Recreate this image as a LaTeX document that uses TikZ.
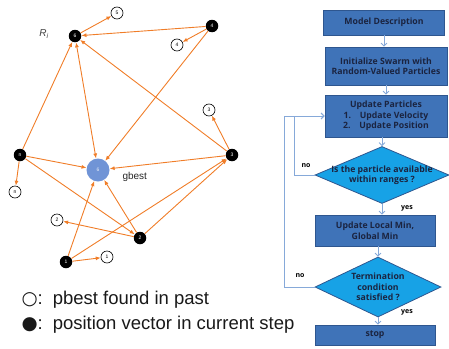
\documentclass[tikz,border=0pt]{standalone}
\usepackage{fontspec}
\setmainfont{Liberation Sans}
\newfontfamily\flowfont{Open Sans}
\newfontfamily\symfont{DejaVu Sans}
\usepackage{tikz}
\usetikzlibrary{shapes.geometric,arrows.meta}

\definecolor{swarmorange}{HTML}{F07D28}
\definecolor{gbestblue}{HTML}{7094D6}
\definecolor{boxblue}{HTML}{3F73B8}
\definecolor{boxline}{HTML}{2E568F}
\definecolor{diablue}{HTML}{17A2E6}
\definecolor{flowline}{HTML}{86A9D9}
\definecolor{flowtext}{HTML}{1B2440}

\tikzset{
	cur/.style={circle,fill=black,inner sep=0pt,minimum size=12.5pt,text=white,font=\fontsize{5}{5}\selectfont},
	past/.style={circle,draw=black,line width=0.6pt,fill=white,inner sep=0pt,minimum size=12pt,font=\fontsize{5}{5}\selectfont},
	arr/.style={swarmorange,line width=0.9pt,-{Latex[length=5pt,width=4pt]}},
	fbox/.style={rectangle,draw=boxline,line width=0.8pt,fill=boxblue,text=flowtext,font=\flowfont\bfseries\fontsize{8.7}{10.5}\selectfont,align=center,inner sep=0pt},
	fdia/.style={diamond,draw=boxline,line width=0.8pt,fill=diablue,text=flowtext,font=\flowfont\bfseries\fontsize{8.7}{10.5}\selectfont,align=center,inner sep=-5pt,aspect=2.2},
	flow/.style={flowline,line width=0.8pt,-{Straight Barb[length=3pt,width=6pt]}},
	tag/.style={font=\flowfont\bfseries\fontsize{7}{8}\selectfont,text=black,inner sep=1pt},
	legend/.style={anchor=base west,font=\fontsize{18.5}{21}\selectfont,text=black!90}
}

\begin{document}
\begin{tikzpicture}[x=1pt,y=-1pt]
	\useasboundingbox (0,0) rectangle (449,348);

	% particles: current positions
	\foreach \n/\x/\y/\t in
	{s6/75/36/6, s4/212/26/4, sn/20/155/n, s3/232/155/3, s2/140/238/2, s1/66/262/1}{
		\node[cur] (\n) at (\x,\y) {\t};
	}
	% particles: pbest found in past
	\foreach \n/\x/\y/\t in
	{p5/117/13/5, p4/177/45/4, p3/209/110/3, pn/15/192/n, p2/57/220/2, p1/107/257/1}{
		\node[past] (\n) at (\x,\y) {\t};
	}
	\node[circle,fill=gbestblue,inner sep=0pt,minimum size=23pt,text=white!85!gbestblue,font=\fontsize{5}{5}\selectfont] (g) at (98,170) {6};
	\node[anchor=west,font=\fontsize{10}{12}\selectfont,text=black!85] (glab) at (119,177) {gbest};
	\node[font=\fontsize{10}{12}\selectfont,text=black!75] (ri) at (44,34) {\textit{R}\textsubscript{\textit{i}}};

	\foreach \x/\y in
	{s6/p5,s4/s6,s4/p4,s4/g,sn/s6,sn/pn,sn/g,sn/s2,s3/s6,s3/p3,s3/g,s2/g,s2/p2,s2/s3,s1/g,s1/s3,s1/p1}{
		\draw[arr] (\x)--(\y);
	}
	\draw[arr,{Latex[length=5pt,width=4pt]}-{Latex[length=5pt,width=4pt]}] (s6)--(g);

	% legend
	\node[legend] (lg1) at (18,304) {{\symfont ○}:\, pbest found in past};
	\node[legend] (lg2) at (18,329) {{\symfont ●}:\, position vector in current step};

	% flow chart
	\node[fbox,minimum width=121pt,minimum height=25pt] (md) at (384,22.5) {Model Description};
	\node[fbox,minimum width=122pt,minimum height=38pt] (init) at (386,66) {Initialize Swarm with\\Random-Valued Particles};
	\node[fbox,minimum width=122pt,minimum height=42pt] (upd) at (386,116) {Update Particles\\1.\quad Update Velocity\\2.\quad Update Position};
	\node[fdia,minimum width=134pt,minimum height=57pt] (chk) at (382,175) {Is the particle available\\within ranges ?};
	\node[fbox,minimum width=120pt,minimum height=31pt] (lmin) at (375,230.5) {Update Local Min,\\Global Min};
	\node[fdia,minimum width=126pt,minimum height=60pt] (term) at (378,287) {Termination\\condition\\satisfied ?};
	\node[fbox,minimum width=120pt,minimum height=20pt] (stp) at (375,335) {stop};

	\draw[flow] (md.south) -- (md.south |- init.north);
	\draw[flow] (init.south) -- (init.south |- upd.north);
	\draw[flow] (chk.north |- upd.south) -- (chk.north);
	\draw[flow] (chk.south) -- (chk.south |- lmin.north);
	\draw[flow] (term.north |- lmin.south) -- (term.north);
	\draw[flow] (term.south) -- (term.south |- stp.north);
	\draw[flow] (chk.west) -- ++(-20,0) |- (upd.west);
	\draw[flow] (term.west) -- ++(-30,0) |- (upd.west);

	\node[tag] (no1) at (306,166) {no};
	\node[tag] (yes1) at (407,208) {yes};
	\node[tag] (no2) at (300,276) {no};
	\node[tag] (yes2) at (407,312) {yes};
\end{tikzpicture}
\end{document}
